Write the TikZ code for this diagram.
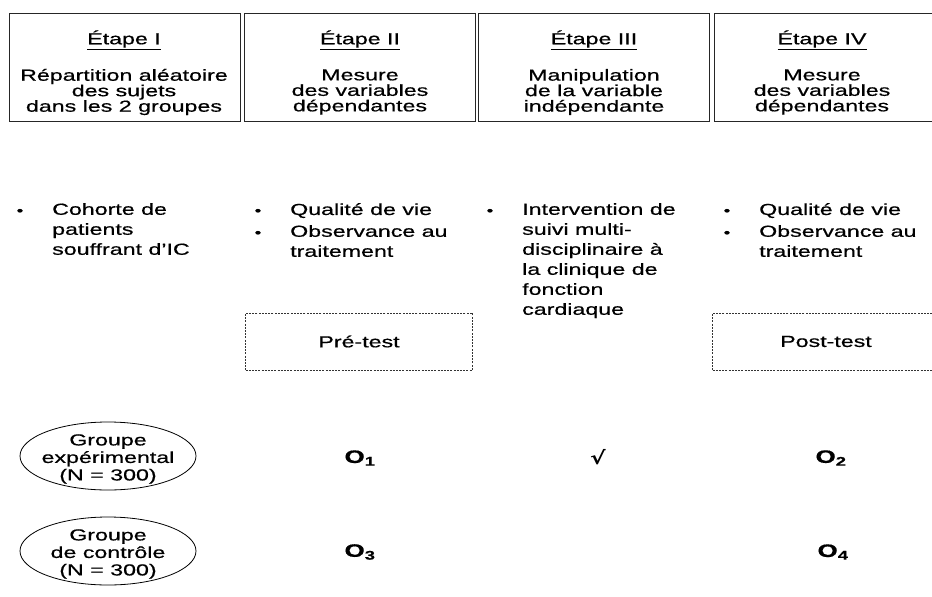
\documentclass[tikz,border=0pt]{standalone}
\usepackage{fontspec}
\setmainfont{Liberation Sans}[FakeStretch=1.45, FakeBold=0.6]
\newfontfamily\symfont{DejaVu Sans}[FakeStretch=1.3]
\usetikzlibrary{shapes.geometric}

\begin{document}
\begin{tikzpicture}[x=1pt,y=-1pt,
  stagebox/.style={draw=black!85, line width=0.8pt, minimum width=231pt, minimum height=108pt, inner sep=0pt},
  title/.style={font=\fontsize{16}{16}\selectfont, inner sep=0pt},
  head/.style={font=\fontsize{16}{15.5}\selectfont, align=center, inner sep=0pt},
  items/.style={font=\fontsize{16}{20}\selectfont, align=left, anchor=north west, inner sep=0pt},
  bul/.style={font=\fontsize{13}{16}\selectfont, inner sep=0pt},
  testbox/.style={draw=black!80, line width=0.6pt, dash pattern=on 2pt off 1.2pt, minimum width=227pt, minimum height=57pt, inner sep=0pt, font=\fontsize{16}{16}\selectfont},
  group/.style={draw=black, line width=0.8pt, ellipse, minimum width=176pt, minimum height=68pt, inner sep=0pt},
  gtext/.style={font=\fontsize{16}{17.5}\selectfont, align=center, inner sep=0pt},
  obs/.style={font=\fontsize{18}{20}\selectfont\bfseries, inner sep=0pt}
]
\useasboundingbox (0,0) rectangle (932,597);

% stage headers and the post-test frame, cut at the right edge
\begin{scope}
  \clip (0,0) rectangle (932,597);
  \node[stagebox] (s1) at (124.5,67) {};
  \node[stagebox] (s2) at (360,67) {};
  \node[stagebox] (s3) at (594,67) {};
  \node[stagebox] (s4) at (829.5,67) {};
  \node[testbox] (post) at (826,341.5) {Post-test};
\end{scope}

\node[title] (t1) at (124,40) {\underline{Étape I}};
\node[title] (t2) at (360,40) {\underline{Étape II}};
\node[title] (t3) at (594,40) {\underline{Étape III}};
\node[title] (t4) at (822,40) {\underline{Étape IV}};

\node[head] (h1) at (124,92) {Répartition aléatoire\\des sujets\\dans les 2 groupes};
\node[head] (h2) at (360,92) {Mesure\\des variables\\dépendantes};
\node[head] (h3) at (594,92) {Manipulation\\de la variable\\indépendante};
\node[head] (h4) at (822,92) {Mesure\\des variables\\dépendantes};

% bullet lists
\node[bul] (b1) at (20,212) {•};
\node[items] (l1) at (52,203) {Cohorte de\\patients\\souffrant d'IC};

\node[bul] (b2a) at (258,212) {•};
\node[bul] (b2b) at (258,234) {•};
\node[items] (l2a) at (290,203) {Qualité de vie};
\node[items] (l2b) at (290,225) {Observance au\\traitement};

\node[bul] (b3) at (490,212) {•};
\node[items] (l3) at (522,203) {Intervention de\\suivi multi-\\disciplinaire à\\la clinique de\\fonction\\cardiaque};

\node[bul] (b4a) at (727,212) {•};
\node[bul] (b4b) at (727,234) {•};
\node[items] (l4a) at (759,203) {Qualité de vie};
\node[items] (l4b) at (759,225) {Observance au\\traitement};

% pre-test frame
\node[testbox] (pre) at (359,341.5) {Pré-test};

% groups
\node[group] (g1) at (108,456) {};
\node[gtext] (g1t) at (108,459) {Groupe\\expérimental\\(N = 300)};
\node[group] (g2) at (108,551) {};
\node[gtext] (g2t) at (108,554) {Groupe\\de contrôle\\(N = 300)};

% observations
\node[obs] (o1) at (360,458) {O\textsubscript{1}};
\node[font=\fontsize{18}{20}\selectfont\symfont\bfseries, inner sep=0pt] (chk) at (598,457) {√};
\node[obs] (o2) at (831,458) {O\textsubscript{2}};
\node[obs] (o3) at (360,552) {O\textsubscript{3}};
\node[obs] (o4) at (833,552) {O\textsubscript{4}};
\end{tikzpicture}
\end{document}
